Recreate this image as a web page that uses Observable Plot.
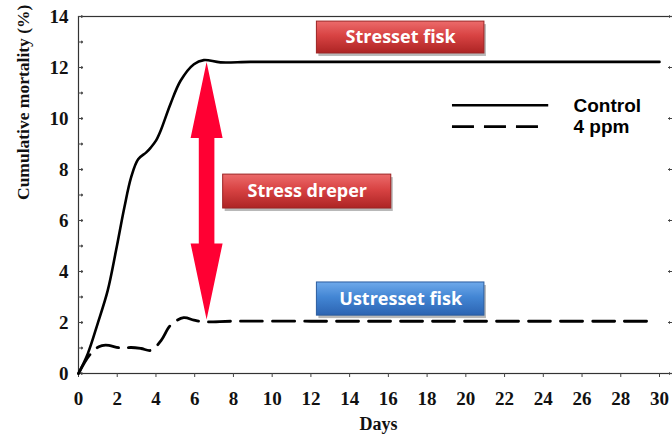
<!DOCTYPE html>
<html>
<head>
<meta charset="utf-8">
<script src="https://cdn.jsdelivr.net/npm/d3@7"></script>
<script src="https://cdn.jsdelivr.net/npm/@observablehq/plot@0.6"></script>
<style>
  html, body { margin: 0; padding: 0; background: #fff; overflow: hidden; }
  #chart svg { display: block; }
</style>
</head>
<body>
<div id="chart"></div>
<script>
// ---- data ----
const controlDays      = [0, 0.48, 0.99, 1.51, 1.94, 2.37, 2.72, 3.08, 3.5, 3.72, 4.0, 4.23, 4.75, 5.27, 5.96, 6.47, 7.33, 8.88, 12, 16, 20, 24, 28, 30];
const controlMortality = [0, 0.78, 1.96, 3.26, 4.83, 6.52, 7.7, 8.4, 8.67, 8.85, 9.13, 9.5, 10.57, 11.48, 12.13, 12.29, 12.2, 12.22, 12.22, 12.22, 12.22, 12.22, 12.22, 12.22];
const ppmDays          = [0, 0.57, 1.05, 1.4, 2.2, 2.72, 3.23, 3.75, 4.27, 4.75, 5.43, 5.96, 6.47, 8, 12, 16, 20, 24, 28, 29.7];
const ppmMortality     = [0, 0.72, 1.05, 1.11, 1.0, 1.02, 0.98, 0.91, 1.3, 1.89, 2.19, 2.09, 2.03, 2.05, 2.05, 2.05, 2.05, 2.05, 2.05, 2.05];
const seriesNames      = ["Control", "4 ppm"];
const xTicks           = [0, 2, 4, 6, 8, 10, 12, 14, 16, 18, 20, 22, 24, 26, 28, 30];
const yTicks           = [0, 2, 4, 6, 8, 10, 12, 14];
const yMinorTicks      = [1, 3, 5, 7, 9, 11, 13];
const boxLabels        = ["Stresset fisk", "Stress dreper", "Ustresset fisk"];
const xLabel           = "Days";
const yLabel           = "Cumulative mortality (%)";

const control = controlDays.map((d, i) => ({day: d, value: controlMortality[i]}));
const ppm = ppmDays.map((d, i) => ({day: d, value: ppmMortality[i]}));

// annotation boxes (data coordinates)
const boxes = boxLabels.map((t, i) => ({
  text: t,
  x1: [12.31, 7.47, 12.31][i], x2: [20.96, 16.15, 20.96][i],
  y1: [12.55, 6.47, 2.27][i],  y2: [13.8, 7.8, 3.57][i]
}));

const serif = "'Liberation Serif', 'Times New Roman', serif";
const sans = "'Liberation Sans', Arial, sans-serif";

const plot = Plot.plot({
  width: 672,
  height: 438,
  marginLeft: 78,
  marginRight: 0,
  marginTop: 16,
  marginBottom: 65,
  x: {domain: [0, 30], range: [78, 659]},
  y: {domain: [0, 14]},
  style: {background: "#fff", overflow: "hidden"},
  marks: [
    Plot.frame({stroke: "#333", strokeWidth: 1.2, insetRight: -1}),
    // x axis ticks & labels
    Plot.axisX({ticks: xTicks, tickSize: 4, tickPadding: 14, stroke: "#444", label: null,
      fontFamily: serif, fontSize: 19, fontWeight: "bold", fill: "#111"}),
    // y axis labels
    Plot.axisY({ticks: yTicks, tickSize: 0, tickPadding: 10, label: null,
      fontFamily: serif, fontSize: 19, fontWeight: "bold", fill: "#111"}),
    // inward y ticks (left)
    Plot.vector(yTicks.concat(yMinorTicks), {x: 0, y: d => d, rotate: 90, length: 4, anchor: "start", stroke: "#444", strokeWidth: 1.2}),
    // inward y ticks (right)
    Plot.vector(yTicks, {y: d => d, frameAnchor: "right", dx: 1, rotate: -90, length: 5, anchor: "start", stroke: "#444", strokeWidth: 1}),
    // axis titles
    Plot.text([yLabel], {frameAnchor: "left", dx: -55, dy: 5, rotate: -90, text: d => d,
      fontFamily: serif, fontSize: 17.5, fontWeight: "bold", fill: "#111"}),
    Plot.text([xLabel], {frameAnchor: "bottom", dx: 3, dy: 56, text: d => d,
      fontFamily: serif, fontSize: 18, fontWeight: "bold", fill: "#111"}),
    // series
    Plot.line(control, {x: "day", y: "value", curve: "catmull-rom", stroke: "#000", strokeWidth: 2.6}),
    Plot.line(ppm, {x: "day", y: "value", curve: "catmull-rom", stroke: "#000", strokeWidth: 2.8, strokeDasharray: "22,10"}),
    // legend
    Plot.ruleY([10.52], {x1: 19.31, x2: 24.28, stroke: "#000", strokeWidth: 2.6}),
    Plot.ruleY([9.68], {x1: 19.31, x2: 23.78, stroke: "#000", strokeWidth: 2.8, strokeDasharray: "22,10"}),
    Plot.text(seriesNames, {x: 25.56, y: (d, i) => [10.5, 9.66][i], text: d => d, textAnchor: "start",
      fontFamily: sans, fontSize: 19, fontWeight: "bold", fill: "#000"}),
    // annotation boxes: shadow, body, text
    Plot.rect(boxes, {x1: "x1", x2: "x2", y1: "y1", y2: "y2", fill: "#000", fillOpacity: 0.28, dx: 2, dy: 3}),
    Plot.rect(boxes.slice(0, 2), {x1: "x1", x2: "x2", y1: "y1", y2: "y2", fill: "url(#gradRed)", stroke: "#9c2323", strokeWidth: 1}),
    Plot.rect(boxes.slice(2), {x1: "x1", x2: "x2", y1: "y1", y2: "y2", fill: "url(#gradBlue)", stroke: "#2b5c9e", strokeWidth: 1}),
    Plot.text(boxes, {x: d => (d.x1 + d.x2) / 2, y: d => (d.y1 + d.y2) / 2, text: "text",
      fontFamily: "'Open Sans', sans-serif", fontSize: 18, fontWeight: "bold", fill: "#fff"})
  ]
});

// gradients for the annotation boxes
const defs = d3.select(plot).insert("defs", ":first-child");
function grad(id, stops) {
  const g = defs.append("linearGradient").attr("id", id).attr("x1", 0).attr("y1", 0).attr("x2", 0).attr("y2", 1);
  stops.forEach(([o, c]) => g.append("stop").attr("offset", o).attr("stop-color", c));
}
grad("gradRed", [["0%", "#ec6b6b"], ["45%", "#d84343"], ["100%", "#ad2424"]]);
grad("gradBlue", [["0%", "#6fa9ea"], ["45%", "#4386d4"], ["100%", "#2c64b2"]]);

// double-headed arrow between the two plateaus, placed with the plot's scales
const sx = plot.scale("x"), sy = plot.scale("y");
const arrowDay = 6.64, arrowTop = 12.2, arrowBottom = 2.1;
const cx = sx.apply(arrowDay), t = sy.apply(arrowTop), b = sy.apply(arrowBottom);
const hw = 16, sw = 7.8, hl = 76;
const dPath = `M${cx},${t}L${cx + hw},${t + hl}L${cx + sw},${t + hl}L${cx + sw},${b - hl}L${cx + hw},${b - hl}` +
  `L${cx},${b}L${cx - hw},${b - hl}L${cx - sw},${b - hl}L${cx - sw},${t + hl}L${cx - hw},${t + hl}Z`;
// insert arrow before the annotation boxes so the box overlaps correctly
const firstRect = plot.querySelector("g[aria-label='rect']");
const arrow = document.createElementNS("http://www.w3.org/2000/svg", "path");
arrow.setAttribute("d", dPath);
arrow.setAttribute("fill", "#ff0033");
if (firstRect) plot.insertBefore(arrow, firstRect); else plot.appendChild(arrow);

document.getElementById("chart").appendChild(plot);
</script>
</body>
</html>
